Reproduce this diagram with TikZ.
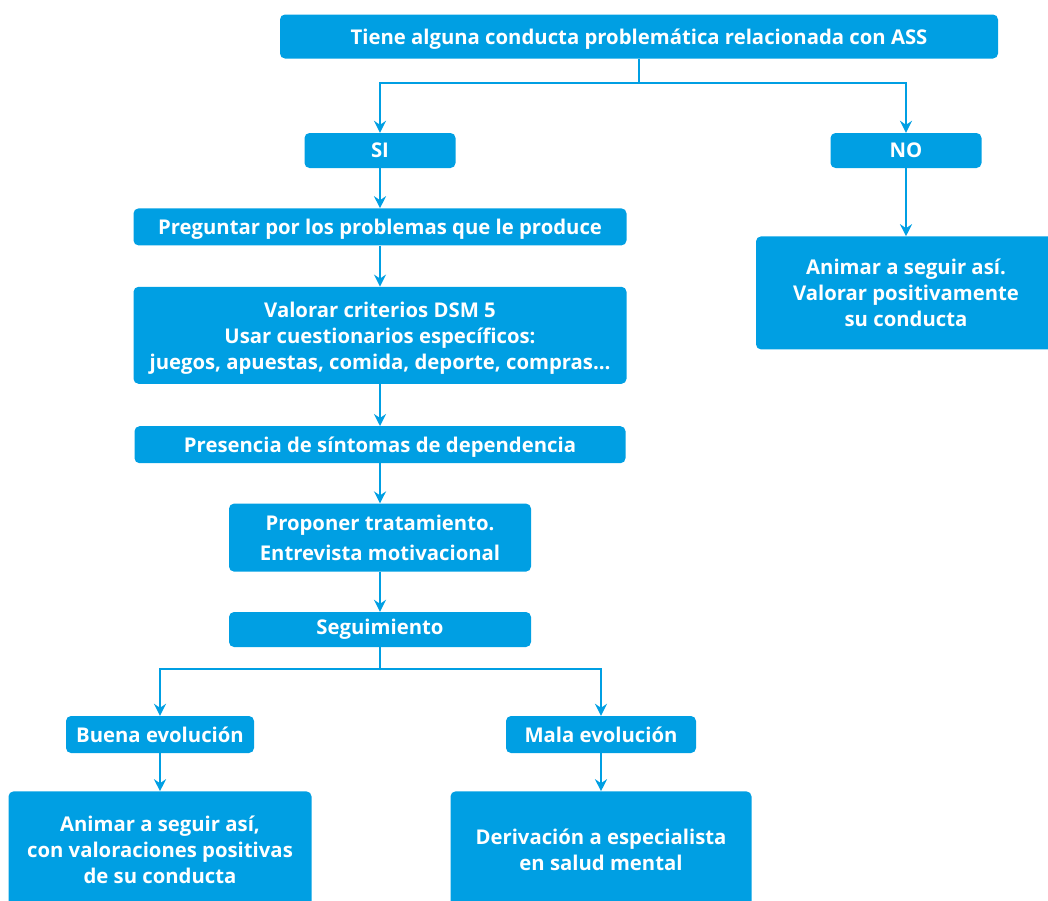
\documentclass[tikz,border=0pt]{standalone}
\usepackage{fontspec}
\setmainfont{Open Sans}
\usepackage{xcolor}
\usetikzlibrary{arrows.meta,positioning,calc}
\definecolor{flowblue}{HTML}{009FE3}
\begin{document}
\begin{tikzpicture}[x=1pt, y=-1pt, node distance=40pt,
  box/.style={fill=flowblue, rounded corners=5pt, align=center, text=white, inner sep=2pt,
    font=\bfseries\fontsize{20.3}{26}\selectfont},
  lowbox/.style={box, text depth=0pt},
  arr/.style={-{Stealth[length=12pt, width=12pt, inset=4pt]}, line width=2.4pt, draw=flowblue}]
  \useasboundingbox (0,0) rectangle (1048,900);
  \clip (0,0) rectangle (1048,900);
  \node[lowbox, minimum width=718pt, minimum height=44pt] (pregunta) at (639,36.5) {Tiene alguna conducta problemática relacionada con ASS};
  \node[box, minimum width=151pt, minimum height=35pt] (si) at (380,150.5) {SI};
  \node[box, minimum width=151pt, minimum height=35pt] (no) at (906,150.5) {NO};
  \node[box, minimum width=300pt, minimum height=113pt, below=68pt of no] (animarno) {Animar a seguir así.\\Valorar positivamente\\su conducta};
  \node[lowbox, minimum width=493pt, minimum height=37pt, below=of si] (preguntar) {Preguntar por los problemas que le produce};
  \node[lowbox, minimum width=493pt, minimum height=97pt, below=41pt of preguntar] (valorar) {Valorar criterios DSM 5\\Usar cuestionarios específicos:\\juegos, apuestas, comida, deporte, compras…};
  \node[lowbox, minimum width=491pt, minimum height=37pt, below=42pt of valorar] (sintomas) {Presencia de síntomas de dependencia};
  \node[box, minimum width=302pt, minimum height=68pt, below=of sintomas, font=\bfseries\fontsize{20.3}{30}\selectfont] (tratamiento) {Proponer tratamiento.\\Entrevista motivacional};
  \node[box, minimum width=302pt, minimum height=35pt, below=of tratamiento] (seguimiento) {Seguimiento};
  \node[box, minimum width=188pt, minimum height=37pt] (buena) at (160,734.5) {Buena evolución};
  \node[box, minimum width=190pt, minimum height=37pt] (mala) at (601,734.5) {Mala evolución};
  \node[box, minimum width=303pt, minimum height=116pt, below=38pt of buena] (animarbuena) {Animar a seguir así,\\con valoraciones positivas\\de su conducta};
  \node[box, minimum width=301pt, minimum height=116pt, below=38pt of mala] (derivacion) {Derivación a especialista\\en salud mental};
  % conectores
  \draw[arr] (pregunta.south) -- ++(0,24) -| (si);
  \draw[arr] (pregunta.south) -- ++(0,24) -| (no);
  \draw[arr] (no) -- (animarno);
  \draw[arr] (si) -- (preguntar);
  \draw[arr] (preguntar) -- (valorar);
  \draw[arr] (valorar) -- (sintomas);
  \draw[arr] (sintomas) -- (tratamiento);
  \draw[arr] (tratamiento) -- (seguimiento);
  \draw[arr] (seguimiento.south) -- ++(0,22) -| (buena);
  \draw[arr] (seguimiento.south) -- ++(0,22) -| (mala);
  \draw[arr] (buena) -- (animarbuena);
  \draw[arr] (mala) -- (derivacion);
\end{tikzpicture}
\end{document}
